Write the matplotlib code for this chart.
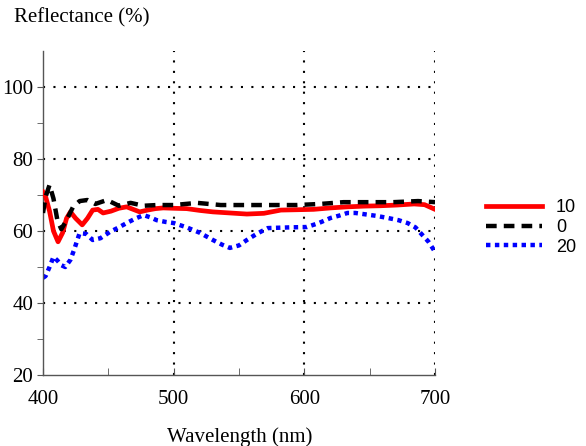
import matplotlib
matplotlib.use("Agg")
import matplotlib.pyplot as plt
from matplotlib.ticker import FixedLocator

# Data
wl_10 = [400, 402, 405, 408, 411.5, 415, 418, 421, 425, 430, 434, 438, 442, 446, 452, 458, 464, 469, 474, 480, 486, 492, 500,
         510, 520, 530, 543, 556, 569, 582, 595, 607, 620, 633, 646, 658, 671, 684, 692, 700]
r_10 = [70.8, 69.5, 65.5, 60.0, 57.0, 59.5, 63.5, 65.3, 63.5, 61.7, 63.5, 65.8, 66.0, 65.0, 65.5, 66.3, 66.7, 66.0, 65.3, 65.8, 66.2, 66.4, 66.3,
        66.2, 65.7, 65.3, 65.0, 64.7, 64.9, 65.8, 65.9, 66.0, 66.4, 66.7, 66.9, 67.0, 67.2, 67.5, 67.3, 66.0]

wl_0 = [400, 402, 405, 408, 411, 414, 418, 423, 428, 434, 440, 449, 458, 467, 477, 487, 500,
        518, 536, 556, 574, 594, 612, 630, 650, 668, 687, 700]
r_0 = [65.0, 69.5, 72.8, 69.0, 63.0, 60.5, 63.0, 66.7, 68.3, 68.6, 67.5, 68.6, 67.0, 67.8, 67.0, 67.2, 67.2,
       67.8, 67.2, 67.2, 67.2, 67.2, 67.5, 68.0, 68.0, 68.0, 68.3, 68.0]

wl_20 = [400, 402, 405, 408, 411, 414, 417, 421, 424, 428, 433, 438, 444, 451, 458, 464, 471, 477, 482, 487, 494, 500,
         510, 520, 530, 537, 543, 550, 556, 564, 572, 580, 589, 602, 611, 620, 627, 633, 639, 645, 655, 664, 672, 679, 685, 689, 695, 700]
r_20 = [47.0, 47.5, 50.0, 52.8, 51.8, 50.5, 50.0, 52.0, 55.0, 59.4, 59.2, 57.5, 58.0, 59.7, 61.0, 62.2, 63.5, 64.4, 63.8, 63.0, 62.5, 62.2,
        61.0, 59.5, 57.5, 56.2, 55.3, 56.0, 57.5, 59.3, 60.8, 60.9, 61.0, 61.1, 62.2, 63.6, 64.3, 65.0, 65.0, 64.7, 64.2, 63.6, 63.0, 62.2, 61.0, 59.4, 57.0, 54.2]

labels = ["10", "0", "20"]
x_ticks = [400, 500, 600, 700]
y_ticks = [20, 40, 60, 80, 100]

fig = plt.figure(figsize=(5.86, 4.46), dpi=100)
ax = fig.add_axes([0.0734, 0.159, 0.669, 0.727])

serif = "Liberation Serif"

# grid
for gx in [500, 600, 700]:
    ax.axvline(gx, color="black", linestyle=(0, (1, 4)), linewidth=1.5, zorder=1)
for gy in [40, 60, 80, 100]:
    ax.axhline(gy, color="black", linestyle=(0, (1, 4)), linewidth=1.5, zorder=1)

l1, = ax.plot(wl_10, r_10, color="#ff0000", linewidth=3.4, solid_joinstyle="round", label=labels[0], zorder=3)
l2, = ax.plot(wl_0, r_0, color="black", linewidth=3.2, linestyle=(0, (2.4, 1.6)), label=labels[1], zorder=4)
l3, = ax.plot(wl_20, r_20, color="#0000ff", linewidth=3.2, linestyle=(0, (1, 1)), label=labels[2], zorder=2)

ax.set_xlim(400, 700)
ax.set_ylim(20, 110)
ax.xaxis.set_major_locator(FixedLocator(x_ticks))
ax.xaxis.set_minor_locator(FixedLocator([450, 550, 650]))
ax.yaxis.set_major_locator(FixedLocator(y_ticks))
ax.yaxis.set_minor_locator(FixedLocator([30, 50, 70, 90]))

for s in ["top", "right"]:
    ax.spines[s].set_visible(False)
for s in ["left", "bottom"]:
    ax.spines[s].set_color("#555555")
    ax.spines[s].set_linewidth(1.0)

ax.tick_params(axis="x", which="both", direction="in", length=5, color="#555555", pad=11)
ax.tick_params(axis="y", which="both", direction="out", length=4, color="#555555", pad=3)
for lab in ax.get_xticklabels() + ax.get_yticklabels():
    lab.set_fontfamily(serif)
    lab.set_fontsize(15)

fig.text(14 / 586, 1 - 18 / 446, "Reflectance (%)", fontfamily=serif, fontsize=15, va="center", ha="left")
fig.text(240 / 586, 1 - 437 / 446, "Wavelength (nm)", fontfamily=serif, fontsize=15, va="center", ha="center")

leg = fig.legend(handles=[l1, l2, l3], loc="upper left", bbox_to_anchor=(470 / 586, 1 - 183 / 446),
                 frameon=False, handlelength=3.1, handletextpad=0.75, labelspacing=0.15,
                 prop={"family": "Liberation Sans", "size": 13})

fig.savefig("out.png", dpi=100)
